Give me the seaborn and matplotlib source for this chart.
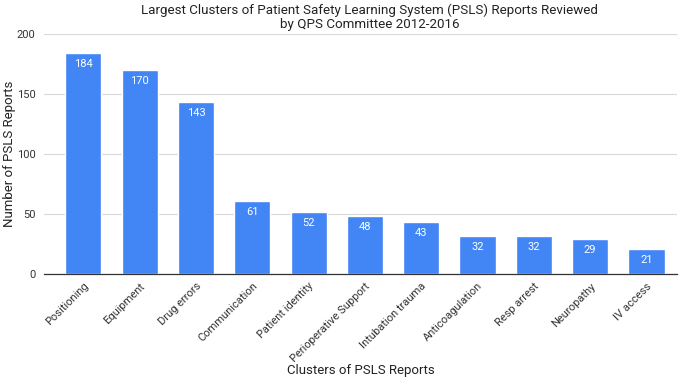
import matplotlib
matplotlib.use("Agg")
import matplotlib.pyplot as plt
import pandas as pd
import seaborn as sns

categories = ["Positioning", "Equipment", "Drug errors", "Communication", "Patient identity",
              "Perioperative Support", "Intubation trauma", "Anticoagulation", "Resp arrest",
              "Neuropathy", "IV access"]
counts = [184, 170, 143, 61, 52, 48, 43, 32, 32, 29, 21]

df = pd.DataFrame({"cluster": categories, "reports": counts})

sns.set_style("white")
plt.rcParams["font.family"] = ["Roboto", "DejaVu Sans"]

fig = plt.figure(figsize=(6.85, 3.79), dpi=100)
ax = fig.add_axes([0.064, 0.277, 0.925, 0.633])

sns.barplot(data=df, x="cluster", y="reports", color="#4285F4", saturation=1,
            width=0.64, ax=ax, zorder=3)

for p, v in zip(ax.patches, counts):
    ax.text(p.get_x() + p.get_width() / 2, v - 5, str(v), ha="center", va="top",
            color="white", fontsize=8)

ax.set_ylim(0, 200)
ax.set_yticks([0, 50, 100, 150, 200])
ax.set_xlim(-0.7, 10.55)
ax.yaxis.grid(True, color="#d9d9d9", linewidth=0.8, zorder=0)
ax.tick_params(axis="y", length=0, labelsize=8, colors="#333333", pad=6)
ax.tick_params(axis="x", length=0, labelsize=8, colors="#333333", pad=5)
for lbl in ax.get_xticklabels():
    lbl.set_rotation(45)
    lbl.set_ha("right")
    lbl.set_rotation_mode("anchor")
for s in ["top", "right", "left"]:
    ax.spines[s].set_visible(False)
ax.spines["bottom"].set_color("#333333")
ax.spines["bottom"].set_linewidth(0.9)
ax.spines["bottom"].set_zorder(4)

ax.set_xlabel("Clusters of PSLS Reports", fontsize=9.5, color="#222222")
ax.set_ylabel("Number of PSLS Reports", fontsize=9.5, color="#222222")
ax.xaxis.set_label_coords(0.5, -0.375)
ax.yaxis.set_label_coords(-0.044, 0.5)
fig.suptitle("Largest Clusters of Patient Safety Learning System (PSLS) Reports Reviewed\nby QPS Committee 2012-2016",
             x=0.54, y=0.99, fontsize=9.6, color="#222222", linespacing=1.05)

fig.savefig("out.png", dpi=100)
